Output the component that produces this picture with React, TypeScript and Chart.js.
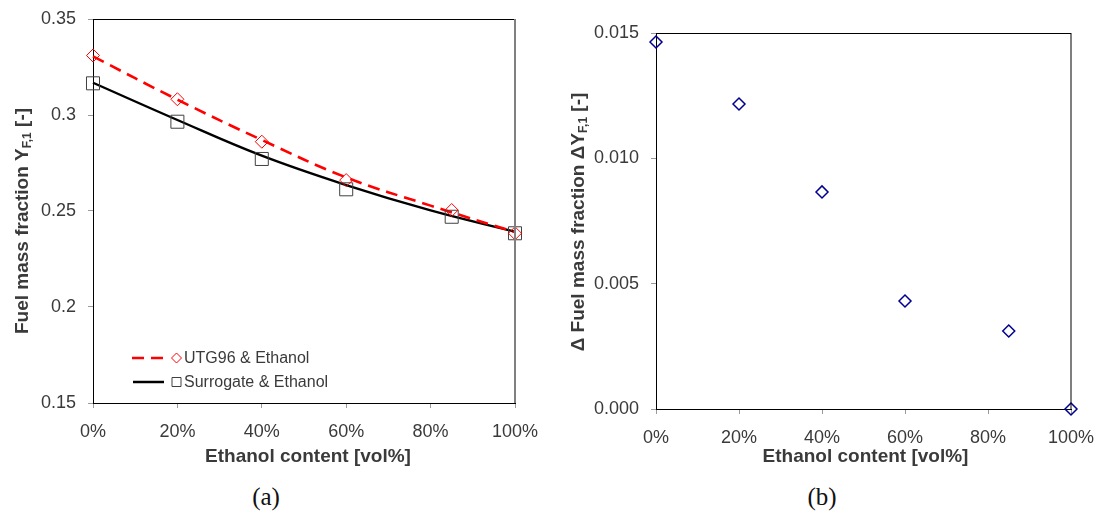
import React, { useEffect, useRef } from 'react';
import { Chart, registerables } from 'chart.js';

Chart.register(...registerables);

// Ethanol volume fraction of each blend [%]
const ethanolPct = [0, 20, 40, 60, 85, 100];
// Fuel mass fraction Y_F,1 of each blend
const utg96Ethanol = [0.331, 0.3082, 0.2861, 0.2661, 0.2505, 0.2384];
const surrogateEthanol = [0.3165, 0.2965, 0.2771, 0.2613, 0.247, 0.2384];
// Smoothed trend lines through the blends
const trendPct = [0, 20, 40, 60, 80, 100];
const utg96Trend = [0.3305, 0.308, 0.287, 0.2675, 0.2528, 0.239];
const surrogateTrend = [0.3168, 0.2974, 0.2788, 0.2635, 0.2503, 0.2392];
// Difference between the two fuels, ΔY_F,1
const deltaY = [0.01464, 0.01217, 0.00866, 0.00431, 0.00311, 0.0];

// Axis ticks
const pctTicks = [0, 20, 40, 60, 80, 100];
const pctTickLabels = ['0%', '20%', '40%', '60%', '80%', '100%'];
const yTicksA = [0.15, 0.2, 0.25, 0.3, 0.35];
const yTickLabelsA = ['0.15', '0.2', '0.25', '0.3', '0.35'];
const yTicksB = [0, 0.005, 0.01, 0.015];
const yTickLabelsB = ['0.000', '0.005', '0.010', '0.015'];

const TEXT = '#3a3a3a';
const FONT = '"Liberation Sans", Arial, sans-serif';

type TitlePart = { text: string; sub?: boolean };

// Draws the frame, axis titles (with subscripts) and the optional legend.
const decorPlugin = {
  id: 'decor',
  afterDraw(chart: any, _args: any, opts: any) {
    const { ctx, chartArea: a } = chart;
    ctx.save();
    // top and right edges of the frame
    ctx.lineWidth = 1;
    ctx.strokeStyle = opts.topColor;
    ctx.beginPath();
    ctx.moveTo(a.left, a.top + 0.5);
    ctx.lineTo(a.right, a.top + 0.5);
    ctx.stroke();
    ctx.strokeStyle = opts.rightColor;
    ctx.lineWidth = opts.rightWidth;
    ctx.beginPath();
    ctx.moveTo(a.right, a.top);
    ctx.lineTo(a.right, a.bottom);
    ctx.stroke();

    // x-axis title
    ctx.fillStyle = TEXT;
    ctx.font = `bold 19px ${FONT}`;
    ctx.textAlign = 'center';
    ctx.textBaseline = 'middle';
    ctx.fillText(opts.xTitle, (a.left + a.right) / 2 + opts.xTitleDx, opts.xTitleY);

    // y-axis title, rotated, with subscript parts
    const parts: TitlePart[] = opts.yTitle;
    const mainFont = `bold 19px ${FONT}`;
    const subFont = `bold 12px ${FONT}`;
    let total = 0;
    const widths = parts.map((p) => {
      ctx.font = p.sub ? subFont : mainFont;
      const w = ctx.measureText(p.text).width;
      total += w;
      return w;
    });
    ctx.translate(opts.yTitleX, opts.yTitleY);
    ctx.rotate(-Math.PI / 2);
    ctx.textAlign = 'left';
    ctx.textBaseline = 'alphabetic';
    let x = -total / 2;
    parts.forEach((p, i) => {
      ctx.font = p.sub ? subFont : mainFont;
      ctx.fillText(p.text, x, p.sub ? 10 : 7);
      x += widths[i];
    });
    ctx.setTransform(1, 0, 0, 1, 0, 0);

    // legend
    if (opts.legend) {
      opts.legend.forEach((item: any) => {
        ctx.save();
        ctx.strokeStyle = item.color;
        ctx.lineWidth = 2.5;
        ctx.setLineDash(item.dash || []);
        ctx.beginPath();
        ctx.moveTo(item.x0, item.y);
        ctx.lineTo(item.x1, item.y);
        ctx.stroke();
        ctx.setLineDash([]);
        ctx.lineWidth = 1;
        ctx.strokeStyle = item.markerColor;
        ctx.beginPath();
        const mx = item.mx;
        if (item.marker === 'diamond') {
          ctx.moveTo(mx, item.y - 5);
          ctx.lineTo(mx + 5, item.y);
          ctx.lineTo(mx, item.y + 5);
          ctx.lineTo(mx - 5, item.y);
          ctx.closePath();
        } else {
          ctx.rect(mx - 4.5, item.y - 4.5, 9, 9);
        }
        ctx.stroke();
        ctx.fillStyle = TEXT;
        ctx.font = `16px ${FONT}`;
        ctx.textAlign = 'left';
        ctx.textBaseline = 'middle';
        ctx.fillText(item.label, item.tx, item.y + 1);
        ctx.restore();
      });
    }
    ctx.restore();
  },
};

function makeScales(
  yTicks: number[],
  yLabels: string[],
  yMin: number,
  yMax: number,
  yWidth: number,
  xHeight: number,
  xPad: number
) {
  return {
    x: {
      type: 'linear',
      min: 0,
      max: 100,
      afterBuildTicks: (s: any) => {
        s.ticks = pctTicks.map((v) => ({ value: v }));
      },
      afterFit: (s: any) => {
        s.height = xHeight;
        s.paddingLeft = 0;
        s.paddingRight = 0;
      },
      ticks: {
        callback: (_v: any, i: number) => pctTickLabels[i],
        color: TEXT,
        font: { family: FONT, size: 18 },
        padding: xPad,
        maxRotation: 0,
      },
      grid: {
        display: true,
        drawOnChartArea: false,
        drawTicks: true,
        tickLength: 5,
        tickColor: '#9a9a9a',
      },
      border: { display: true, color: '#000', width: 1 },
    },
    y: {
      type: 'linear',
      min: yMin,
      max: yMax,
      afterBuildTicks: (s: any) => {
        s.ticks = yTicks.map((v) => ({ value: v }));
      },
      afterFit: (s: any) => {
        s.width = yWidth;
        s.paddingTop = 0;
        s.paddingBottom = 0;
      },
      ticks: {
        callback: (_v: any, i: number) => yLabels[i],
        color: TEXT,
        font: { family: FONT, size: 18 },
        padding: 12,
      },
      grid: {
        display: true,
        drawOnChartArea: false,
        drawTicks: true,
        tickLength: 5,
        tickColor: '#9a9a9a',
      },
      border: { display: true, color: '#000', width: 1 },
    },
  };
}

function ChartCanvas({ config, width, height, left }: any) {
  const ref = useRef<HTMLCanvasElement>(null);
  useEffect(() => {
    const chart = new Chart(ref.current as HTMLCanvasElement, config);
    return () => chart.destroy();
  }, []);
  return (
    <canvas
      ref={ref}
      width={width}
      height={height}
      style={{ position: 'absolute', left, top: 0, width, height }}
    />
  );
}

const pts = (xs: number[], ys: number[]) => xs.map((x, i) => ({ x, y: ys[i] }));

const configA: any = {
  type: 'scatter',
  data: {
    datasets: [
      {
        label: 'UTG96 & Ethanol',
        data: pts(ethanolPct, utg96Ethanol),
        showLine: false,
        pointStyle: 'rectRot',
        pointRadius: 6.5,
        borderColor: '#ff0000',
        backgroundColor: 'rgba(0,0,0,0)',
        pointBorderWidth: 1,
        clip: false,
        order: 1,
      },
      {
        label: 'Surrogate & Ethanol',
        data: pts(ethanolPct, surrogateEthanol),
        showLine: false,
        pointStyle: 'rect',
        pointRadius: 9.2,
        borderColor: '#404040',
        backgroundColor: 'rgba(0,0,0,0)',
        pointBorderWidth: 1,
        clip: false,
        order: 2,
      },
      {
        label: 'UTG96 & Ethanol trend',
        data: pts(trendPct, utg96Trend),
        showLine: true,
        borderColor: '#ff0000',
        borderWidth: 2.6,
        borderDash: [12, 7],
        pointRadius: 0,
        tension: 0.4,
        clip: false,
        order: 3,
      },
      {
        label: 'Surrogate & Ethanol trend',
        data: pts(trendPct, surrogateTrend),
        showLine: true,
        borderColor: '#000000',
        borderWidth: 2.4,
        pointRadius: 0,
        tension: 0.4,
        clip: false,
        order: 4,
      },
    ],
  },
  options: {
    animation: false,
    responsive: false,
    devicePixelRatio: 1,
    layout: { padding: { top: 19, right: 45, left: 0, bottom: 0 } },
    scales: makeScales(yTicksA, yTickLabelsA, 0.15, 0.35, 93, 77, 13),
    plugins: {
      legend: { display: false },
      tooltip: { enabled: false },
      decor: {
        topColor: '#000',
        rightColor: '#808080',
        rightWidth: 2,
        xTitle: 'Ethanol content [vol%]',
        xTitleDx: 4,
        xTitleY: 457,
        yTitle: [{ text: 'Fuel mass fraction Y' }, { text: 'F,1', sub: true }, { text: ' [-]' }],
        yTitleX: 21,
        yTitleY: 221,
        legend: [
          {
            label: 'UTG96 & Ethanol',
            color: '#ff0000',
            dash: [12, 7],
            markerColor: '#ff0000',
            marker: 'diamond',
            x0: 132,
            x1: 164,
            mx: 176.5,
            tx: 184,
            y: 358,
          },
          {
            label: 'Surrogate & Ethanol',
            color: '#000000',
            markerColor: '#404040',
            marker: 'square',
            x0: 133,
            x1: 164,
            mx: 176.5,
            tx: 184,
            y: 382,
          },
        ],
      },
    },
  },
  plugins: [decorPlugin],
};

const configB: any = {
  type: 'scatter',
  data: {
    datasets: [
      {
        label: 'ΔY_F,1',
        data: pts(ethanolPct, deltaY),
        showLine: false,
        pointStyle: 'rectRot',
        pointRadius: 6,
        borderColor: '#000090',
        backgroundColor: 'rgba(0,0,0,0)',
        pointBorderWidth: 1.5,
        clip: false,
      },
    ],
  },
  options: {
    animation: false,
    responsive: false,
    devicePixelRatio: 1,
    layout: { padding: { top: 33, right: 31, left: 0, bottom: 0 } },
    scales: makeScales(yTicksB, yTickLabelsB, 0, 0.015, 96, 71, 13),
    plugins: {
      legend: { display: false },
      tooltip: { enabled: false },
      decor: {
        topColor: '#000',
        rightColor: '#000',
        rightWidth: 1,
        xTitle: 'Ethanol content [vol%]',
        xTitleDx: 2,
        xTitleY: 457,
        yTitle: [{ text: 'Δ Fuel mass fraction ΔY' }, { text: 'F,1', sub: true }, { text: ' [-]' }],
        yTitleX: 17,
        yTitleY: 222,
      },
    },
  },
  plugins: [decorPlugin],
};

const captionStyle: React.CSSProperties = {
  position: 'absolute',
  top: 482,
  width: 100,
  textAlign: 'center',
  fontFamily: '"Liberation Serif", "DejaVu Serif", serif',
  fontSize: 25,
  lineHeight: '30px',
  color: '#111',
};

export default function App() {
  return (
    <div
      style={{
        position: 'fixed',
        left: 0,
        top: 0,
        width: 1102,
        height: 519,
        background: '#fff',
        overflow: 'hidden',
      }}
    >
      <ChartCanvas config={configA} width={560} height={480} left={0} />
      <ChartCanvas config={configB} width={542} height={480} left={560} />
      <div style={{ ...captionStyle, left: 216 }}>(a)</div>
      <div style={{ ...captionStyle, left: 772 }}>(b)</div>
    </div>
  );
}
